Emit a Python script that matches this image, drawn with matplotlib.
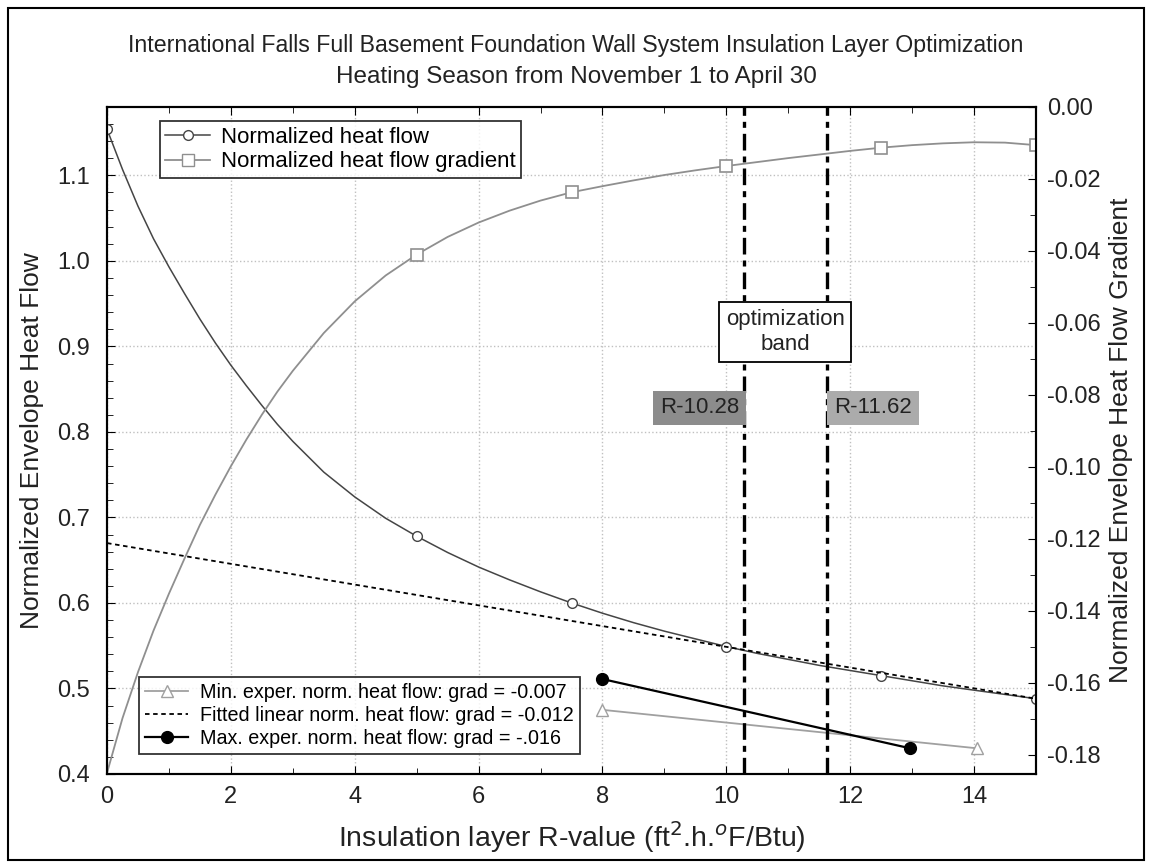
import matplotlib
matplotlib.use("Agg")
import matplotlib.pyplot as plt
from matplotlib.lines import Line2D
from matplotlib.patches import Rectangle
from matplotlib.ticker import MultipleLocator

plt.rcParams['font.family'] = ['Liberation Sans', 'DejaVu Sans']

# Normalized heat flow (left axis)
flow_x = [0, 0.25, 0.5, 0.75, 1.0, 1.25, 1.5, 1.75, 2.0, 2.25, 2.5, 2.75, 3.0, 3.5, 4.0, 4.5,
          5.0, 5.5, 6.0, 6.5, 7.0, 7.5, 8.0, 8.5, 9.0, 9.5, 10, 10.5, 11, 11.5, 12, 12.5,
          13, 13.5, 14, 14.5, 15]
flow_y = [1.154, 1.107, 1.064, 1.026, 0.993, 0.962, 0.932, 0.904, 0.878, 0.854, 0.831, 0.809,
          0.789, 0.753, 0.724, 0.699, 0.678, 0.659, 0.642, 0.627, 0.613, 0.600, 0.588, 0.577,
          0.567, 0.558, 0.549, 0.541, 0.534, 0.527, 0.521, 0.515, 0.509, 0.503, 0.498, 0.493, 0.488]
flow_mx = [0, 5, 7.5, 10, 12.5, 15]
flow_my = [1.154, 0.678, 0.600, 0.549, 0.515, 0.488]

# Normalized heat flow gradient (right axis)
grad_x = [0, 0.25, 0.5, 0.75, 1.0, 1.25, 1.5, 1.75, 2.0, 2.25, 2.5, 2.75, 3.0, 3.5, 4.0, 4.5,
          5.0, 5.5, 6.0, 6.5, 7.0, 7.5, 8.0, 8.5, 9.0, 9.5, 10, 10.5, 11, 11.5, 12, 12.5,
          13, 13.5, 14, 14.5, 15]
grad_y = [-0.185, -0.1698, -0.157, -0.1455, -0.1352, -0.1255, -0.1161, -0.1077, -0.0998, -0.0924,
          -0.0855, -0.0791, -0.0733, -0.0628, -0.054, -0.0468, -0.041, -0.0361, -0.0321, -0.0288,
          -0.026, -0.0237, -0.022, -0.0204, -0.0189, -0.0176, -0.0164, -0.0153, -0.0142, -0.0132,
          -0.0122, -0.0113, -0.0106, -0.0101, -0.0098, -0.0099, -0.0106]
grad_mx = [5, 7.5, 10, 12.5, 15]
grad_my = [-0.041, -0.0237, -0.0164, -0.0113, -0.0106]

# straight lines
fit_x = [0, 15]
fit_y = [0.670, 0.488]
min_x = [8, 14.05]
min_y = [0.475, 0.430]
max_x = [8, 12.97]
max_y = [0.511, 0.430]

band = [10.28, 11.62]
band_labels = ["R-10.28", "R-11.62"]

fig = plt.figure(figsize=(11.52, 8.67), dpi=100)
ax = fig.add_axes([0.0929, 0.1073, 0.8064, 0.7693])
ax2 = ax.twinx()

dark = "#454545"
light = "#8f8f8f"
tcol = "#222222"

ax.plot(flow_x, flow_y, color=dark, lw=1.1)
ax.plot(flow_mx, flow_my, ls="none", marker="o", ms=7, mfc="white", mec=dark, mew=1.0)
ax.plot(fit_x, fit_y, color="black", lw=1.3, ls=(0, (2.5, 2)))
ax.plot(min_x, min_y, color="#a0a0a0", lw=1.3, marker="^", ms=9, mfc="white", mec="#a0a0a0")
ax.plot(max_x, max_y, color="black", lw=1.6, marker="o", ms=8.5, mfc="black", mec="black")

ax2.plot(grad_x, grad_y, color=light, lw=1.3)
ax2.plot(grad_mx, grad_my, ls="none", marker="s", ms=8, mfc="white", mec=light, mew=1.2)

for b in band:
    ax.axvline(b, color="black", lw=2.4, ls=(0, (5, 1.8, 1.8, 1.8)))

ax.set_xlim(0, 15)
ax.set_ylim(0.4, 1.18)
ax2.set_ylim(-0.1853, 0.0)
ax.xaxis.set_major_locator(MultipleLocator(2))
ax.xaxis.set_minor_locator(MultipleLocator(1))
ax.yaxis.set_major_locator(MultipleLocator(0.1))
ax.yaxis.set_minor_locator(MultipleLocator(0.02))
ax2.yaxis.set_major_locator(MultipleLocator(0.02))
ax2.yaxis.set_minor_locator(MultipleLocator(0.01))
ax.yaxis.set_major_formatter(plt.FuncFormatter(lambda v, p: "%.1f" % v))
ax2.yaxis.set_major_formatter(plt.FuncFormatter(lambda v, p: "%.2f" % v))

ax.grid(True, which="major", color="#c0c0c0", ls=":", lw=1.0)
ax.tick_params(axis="both", which="both", direction="in", labelsize=17, top=True, labelcolor=tcol)
ax.tick_params(which="major", length=6)
ax.tick_params(which="minor", length=4)
ax.tick_params(axis="x", pad=9)
ax.tick_params(axis="y", pad=12)
ax2.tick_params(axis="y", which="both", direction="in", labelsize=17, labelcolor=tcol)
ax2.tick_params(which="major", length=6, pad=8)
ax2.tick_params(which="minor", length=4)
for a in (ax, ax2):
    for s in a.spines.values():
        s.set_linewidth(1.5)

ax.set_xlabel("Insulation layer R-value (ft$^2$.h.$^o$F/Btu)", fontsize=20.5, color=tcol, labelpad=8)
ax.set_ylabel("Normalized Envelope Heat Flow", fontsize=19, color=tcol, labelpad=10)
ax2.set_ylabel("Normalized Envelope Heat Flow Gradient", fontsize=19, color=tcol, labelpad=6)

fig.text(0.5, 0.948, "International Falls Full Basement Foundation Wall System Insulation Layer Optimization",
         ha="center", va="center", fontsize=16.7, color=tcol)
fig.text(0.5, 0.911, "Heating Season from November 1 to April 30", ha="center", va="center",
         fontsize=17.5, color=tcol)

# annotations for the optimization band
ax.text(band[0] - 0.07, 0.828, band_labels[0], ha="right", va="center", fontsize=16, color=tcol,
        bbox=dict(boxstyle="square,pad=0.3", fc="#8c8c8c", ec="none"))
ax.text(band[1] + 0.12, 0.828, band_labels[1], ha="left", va="center", fontsize=16, color=tcol,
        bbox=dict(boxstyle="square,pad=0.3", fc="#ababab", ec="none"))
ax.text((band[0] + band[1]) / 2, 0.917, "optimization\nband", ha="center", va="center", fontsize=16,
        color=tcol, linespacing=1.25,
        bbox=dict(boxstyle="square,pad=0.3", fc="white", ec="black", lw=1.3))

h1 = [Line2D([], [], color=dark, lw=1.1, marker="o", ms=7, mfc="white", mec=dark),
      Line2D([], [], color=light, lw=1.3, marker="s", ms=8, mfc="white", mec=light)]
leg1 = ax2.legend(h1, ["Normalized heat flow", "Normalized heat flow gradient"],
                  loc="upper left", bbox_to_anchor=(0.045, 0.995), fontsize=16, frameon=True,
                  fancybox=False, edgecolor="black", handlelength=2.0, borderpad=0.25,
                  labelspacing=0.15, handletextpad=0.5)
leg1.get_frame().set_linewidth(1.3)
ax2.add_artist(leg1)

h2 = [Line2D([], [], color="#a0a0a0", lw=1.3, marker="^", ms=9, mfc="white", mec="#a0a0a0"),
      Line2D([], [], color="black", lw=1.3, ls=(0, (2.5, 2))),
      Line2D([], [], color="black", lw=1.6, marker="o", ms=8.5, mfc="black")]
leg2 = ax2.legend(h2, ["Min. exper. norm. heat flow: grad = -0.007",
                       "Fitted linear norm. heat flow: grad = -0.012",
                       "Max. exper. norm. heat flow: grad = -.016"],
                  loc="lower left", bbox_to_anchor=(0.024, 0.015), fontsize=14.2, frameon=True,
                  fancybox=False, edgecolor="black", handlelength=2.2, borderpad=0.3,
                  labelspacing=0.2, handletextpad=0.6)
leg2.get_frame().set_linewidth(1.3)

# outer border
fig.patches.append(Rectangle((0.007, 0.008), 0.986, 0.983, transform=fig.transFigure,
                             fill=False, ec="black", lw=1.5))

fig.savefig("out.png", dpi=100)
